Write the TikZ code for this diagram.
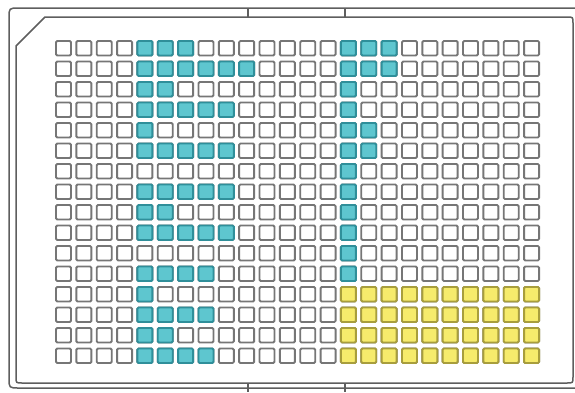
\documentclass[tikz,border=0pt]{standalone}
\definecolor{wellgray}{HTML}{767676}
\definecolor{framegray}{HTML}{5E5E5E}
\definecolor{tealfill}{HTML}{5EC6CF}
\definecolor{tealedge}{HTML}{2F8F9A}
\definecolor{yelfill}{HTML}{F6EB6C}
\definecolor{yeledge}{HTML}{A89E3C}
\tikzset{
  well/.style={draw=wellgray, fill=white, line width=1.9pt, rectangle, rounded corners=1.2pt,
    minimum width=15pt, minimum height=14.5pt, inner sep=0pt, outer sep=0pt},
  tealwell/.style={well, draw=tealedge, fill=tealfill},
  yelwell/.style={well, draw=yeledge, fill=yelfill},
  frame/.style={draw=framegray, line width=1.5pt},
}
\begin{document}
\begin{tikzpicture}[x=1pt,y=-1pt]
\useasboundingbox (0,0) rectangle (575,392);
% outer frame
\draw[frame] (575,8) -- (19,8) .. controls (9,8) .. (9,18) -- (9,378) .. controls (9,388) .. (19,388) -- (575,388);
% inner frame with chamfered corner
\draw[frame] (45,17) -- (567,17) .. controls (573,17) .. (573,23) -- (573,377) .. controls (573,383) .. (567,383)
  -- (22,383) .. controls (16,383) .. (16,377) -- (16,46) -- cycle;
% ticks
\draw[frame] (248,8) -- (248,17);
\draw[frame] (345,8) -- (345,17);
\draw[frame] (248,383) -- (248,392);
\draw[frame] (345,383) -- (345,392);
% all wells
\foreach \r in {0,...,15}{
  \foreach \c in {0,...,23}{
    \node[well] (w\r-\c) at ({63.5+\c*20.35},{48.25+\r*20.5}) {};
  }
}
% teal wells
\foreach \r/\cs in {0/{4,5,6,14,15,16}, 1/{4,5,6,7,8,9,14,15,16}, 2/{4,5,14}, 3/{4,5,6,7,8,14},
  4/{4,14,15}, 5/{4,5,6,7,8,14,15}, 6/{14}, 7/{4,5,6,7,8,14}, 8/{4,5,14}, 9/{4,5,6,7,8,14},
  10/{14}, 11/{4,5,6,7,14}, 12/{4}, 13/{4,5,6,7}, 14/{4,5}, 15/{4,5,6,7}}{
  \foreach \c in \cs {
    \node[tealwell] (t\r-\c) at ({63.5+\c*20.35},{48.25+\r*20.5}) {};
  }
}
% yellow wells
\foreach \r in {12,...,15}{
  \foreach \c in {14,...,23}{
    \node[yelwell] (y\r-\c) at ({63.5+\c*20.35},{48.25+\r*20.5}) {};
  }
}
\end{tikzpicture}
\end{document}
